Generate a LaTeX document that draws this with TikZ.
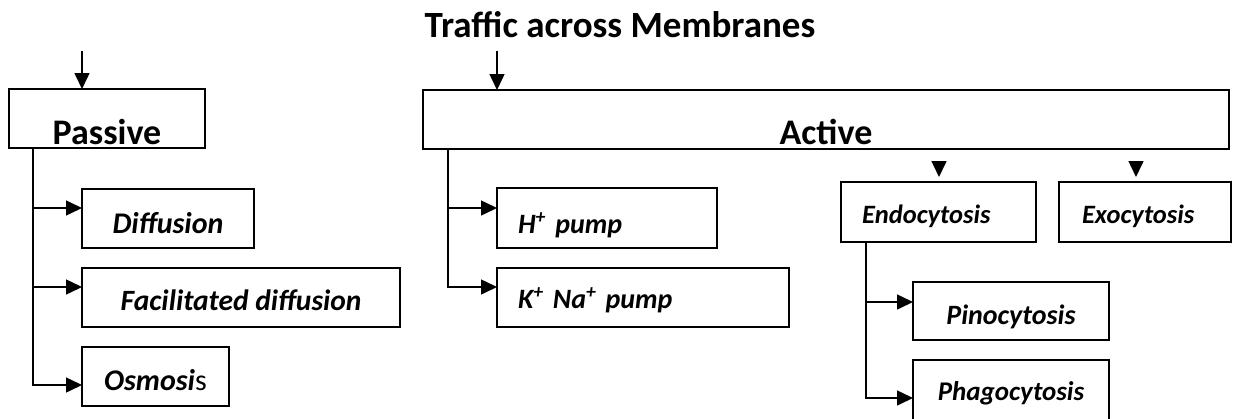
\documentclass[tikz,border=0pt]{standalone}
\usepackage{fontspec}
\setmainfont{Carlito}
\usetikzlibrary{arrows.meta}
\newcommand{\fsz}[1]{\fontsize{#1}{#1}\selectfont}
\tikzset{
  box/.style={draw, line width=1.5pt, inner sep=0pt, outer sep=0pt, anchor=base},
  lbox/.style={draw, line width=1.5pt, inner ysep=0pt, outer sep=0pt, anchor=base west, align=left},
  arr/.style={line width=1.5pt, -{Triangle[length=16pt,width=15pt]}},
}
\begin{document}
\begin{tikzpicture}[x=1pt,y=-1pt]
\useasboundingbox (0,0) rectangle (1233,418);
% title
\node[anchor=base, font=\bfseries\fsz{37}] (title) at (620,37) {Traffic across Membranes};
% main boxes
\node[box, minimum width=196pt, text height=55pt, text depth=4pt, font=\bfseries\fsz{36}] (passive) at (107,144) {Passive};
\node[box, minimum width=806pt, text height=54pt, text depth=5pt, font=\bfseries\fsz{36}] (active) at (826,144) {Active};
% passive children
\node[box, minimum width=172pt, text height=44pt, text depth=15pt, font=\bfseries\itshape\fsz{30}] (diff) at (168,233) {Diffusion};
\node[box, minimum width=318pt, text height=42pt, text depth=17pt, font=\bfseries\itshape\fsz{29.5}] (facil) at (241,310) {Facilitated diffusion};
\node[box, minimum width=147pt, text height=43pt, text depth=16pt, font=\bfseries\itshape\fsz{30}] (osm) at (155.5,390) {Osmosi{\normalfont\upshape s}};
% active children
\node[lbox, inner xsep=21pt, text width=178pt, text height=45pt, text depth=15pt, font=\bfseries\itshape\fsz{28}] (hpump) at (497,233) {H\textsuperscript{+} pump};
\node[lbox, inner xsep=21pt, text width=250pt, text height=40pt, text depth=19pt, font=\bfseries\itshape\fsz{28}] (kpump) at (497,308) {K\textsuperscript{+} Na\textsuperscript{+} pump};
\node[lbox, inner xsep=21pt, text width=153pt, text height=41pt, text depth=19pt, font=\bfseries\itshape\fsz{26.5}] (endo) at (841,223) {Endocytosis};
\node[lbox, inner xsep=23pt, text width=126pt, text height=41pt, text depth=19pt, font=\bfseries\itshape\fsz{26.5}] (exo) at (1059,223) {Exocytosis};
\node[box, minimum width=196pt, text height=42pt, text depth=16pt, font=\bfseries\itshape\fsz{28}] (pino) at (1011,324) {Pinocytosis};
\node[box, minimum width=196pt, text height=40pt, text depth=24pt, font=\bfseries\itshape\fsz{27}] (phago) at (1011,400) {Phagocytosis};
% entry arrows
\coordinate (pin) at (82,51);
\coordinate (ain) at (497,51);
\draw[arr] (pin) -- (pin |- passive.north);
\draw[arr] (ain) -- (ain |- active.north);
\coordinate (ein) at (939,161);
\coordinate (xin) at (1136,161);
\draw[arr, shorten >=5pt] (ein) -- (ein |- endo.north);
\draw[arr, shorten >=5pt] (xin) -- (xin |- exo.north);
% passive bus
\coordinate (pbus) at ([xshift=24pt]passive.south west);
\coordinate (tdiff) at ([yshift=10.5pt]diff.west);
\coordinate (tfacil) at ([yshift=10.5pt]facil.west);
\coordinate (tosm) at ([yshift=-8.5pt]osm.west);
\draw[arr] (pbus) |- (tosm);
\draw[arr] (pbus |- tdiff) -- (tdiff);
\draw[arr] (pbus |- tfacil) -- (tfacil);
% active bus
\coordinate (abus) at ([xshift=25pt]active.south west);
\coordinate (th) at ([yshift=10pt]hpump.west);
\coordinate (tk) at ([yshift=10.5pt]kpump.west);
\draw[arr] (abus) |- (tk);
\draw[arr] (abus |- th) -- (th);
% endocytosis bus
\coordinate (ebus) at ([xshift=25pt]endo.south west);
\coordinate (tpino) at ([yshift=9pt]pino.west);
\coordinate (tphago) at (phago.west |- 0,398);
\draw[arr] (ebus) |- (tphago);
\draw[arr] (ebus |- tpino) -- (tpino);
\end{tikzpicture}
\end{document}
